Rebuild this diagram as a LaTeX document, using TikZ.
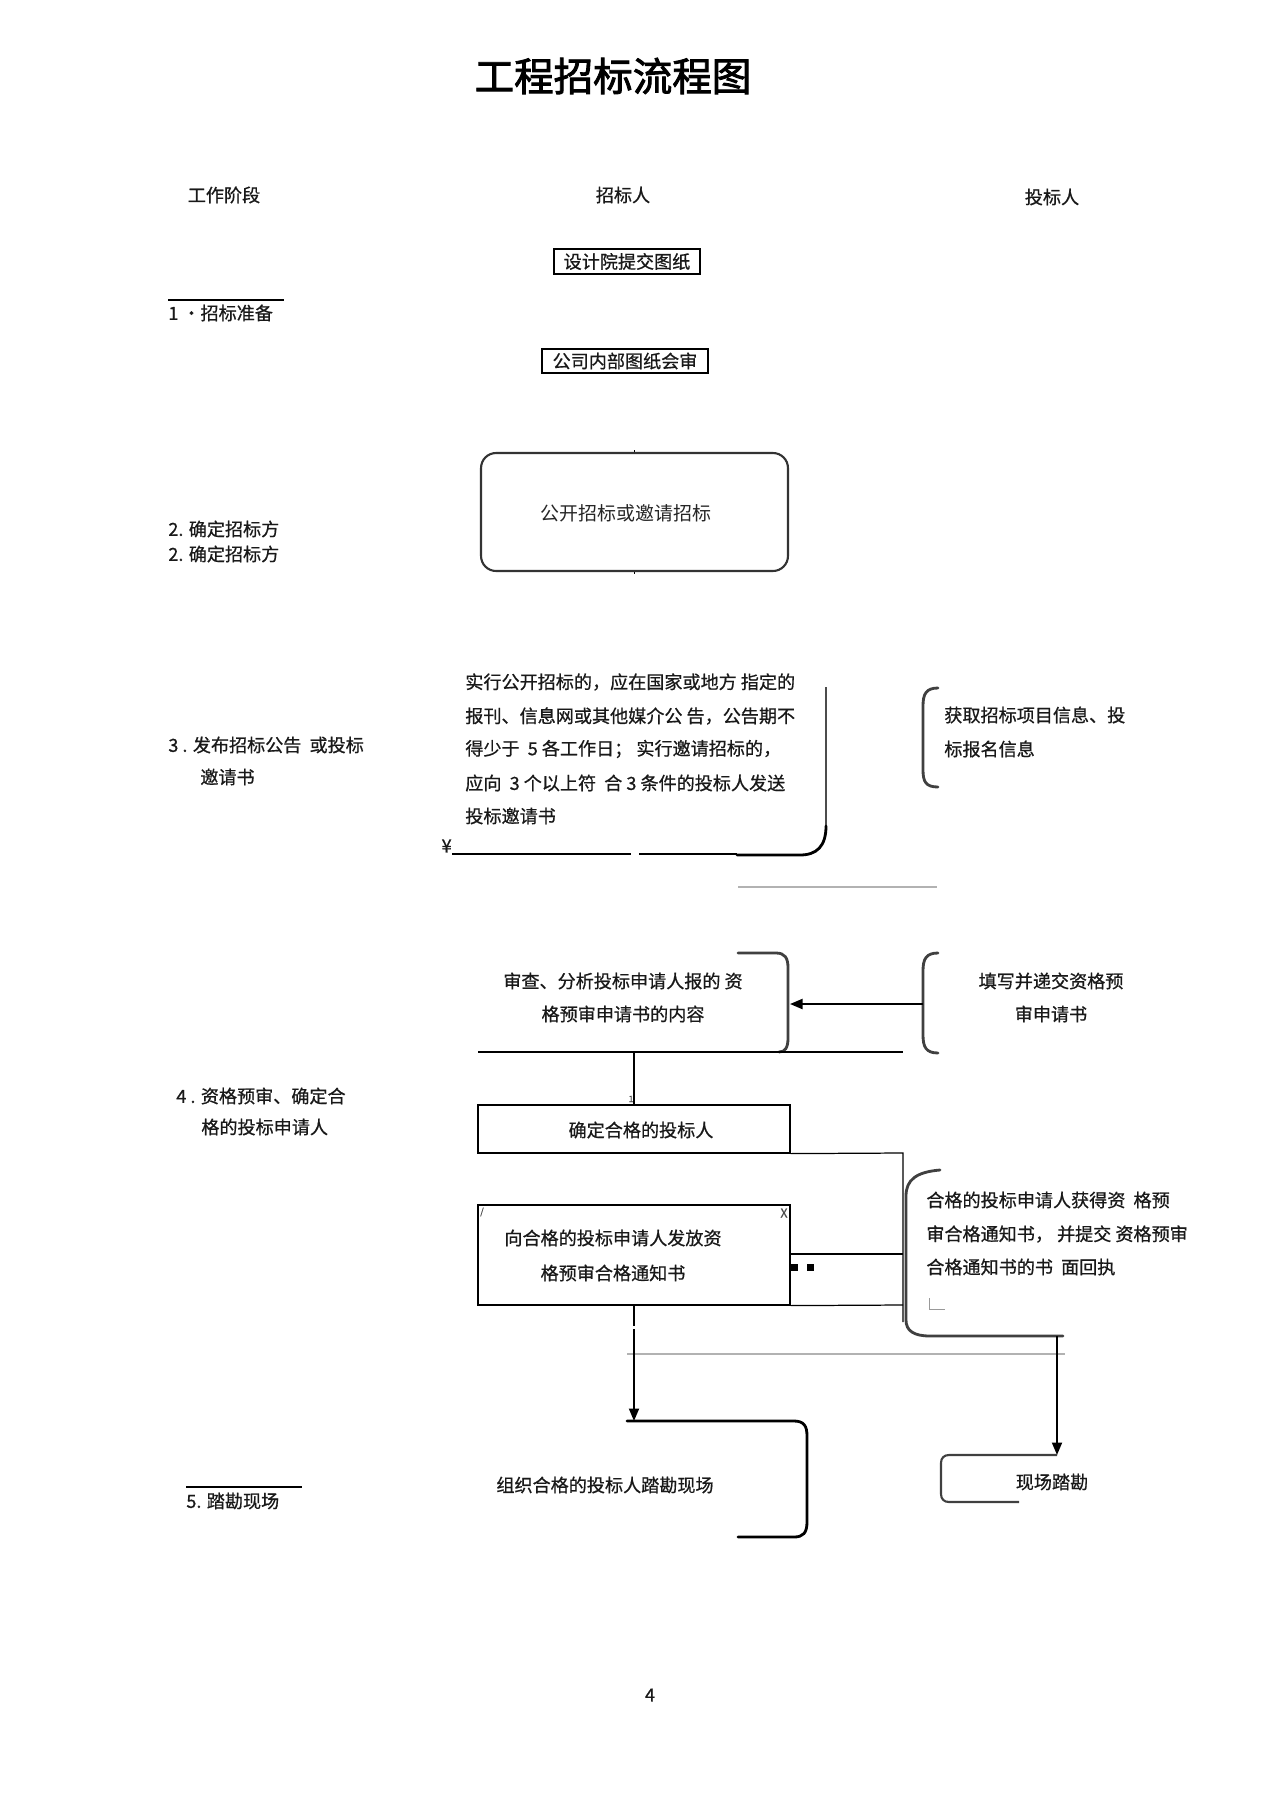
\documentclass[tikz,border=0pt]{standalone}
\usepackage{fontspec}
\newfontfamily\cjk[FakeBold=0.7]{Noto Sans CJK SC}
\newfontfamily\cjkp{Noto Sans CJK SC}
\newfontfamily\cjkt[FakeBold=2.2]{Noto Sans CJK SC}
\usetikzlibrary{arrows.meta}
\tikzset{
  body/.style={font=\cjk\fontsize{10.3}{12}\selectfont, inner sep=0pt, text=black!90},
  lbl/.style={font=\cjk\fontsize{10.3}{12}\selectfont, inner sep=0pt, text=black!90},
  tiny/.style={font=\cjk\fontsize{5}{6}\selectfont, inner sep=0pt, text=black!70},
  thinline/.style={line width=0.7pt, black},
  brk/.style={line width=1.6pt, black!75, line cap=round},
  grayline/.style={line width=1.6pt, black!30},
  arr/.style={line width=1.1pt, black, -{Triangle[length=0.25cm,width=0.2cm]}},
  boxed/.style={draw, line width=0.7pt, inner sep=0pt},
}
\begin{document}
\begin{tikzpicture}[x=0.02cm,y=-0.02cm]
\useasboundingbox (0,0) rectangle (1274,1804);
\fill[white] (0,0) rectangle (1274,1804);

% title and headers
\node[font=\cjkt\fontsize{22.5}{26}\selectfont, inner sep=0pt] (title) at (613,76) {工程招标流程图};
\node[lbl] (h1) at (224,195) {工作阶段};
\node[lbl] (h2) at (623,195) {招标人};
\node[lbl] (h3) at (1052,197) {投标人};

% stage 1
\node[boxed, minimum width=2.92cm, minimum height=0.5cm, body] (b1) at (627,261.5) {设计院提交图纸};
\draw[thinline] (168,300) -- (284,300);
\node[lbl, anchor=west] (s1) at (168,313) {1 ·招标准备};
\node[boxed, minimum width=3.32cm, minimum height=0.48cm, body] (b2) at (625,361) {公司内部图纸会审};

% stage 2
\node[draw, line width=1.2pt, black!80, rounded corners=0.3cm, minimum width=6.14cm, minimum height=2.36cm] (b3) at (634.5,512) {};
\node[font=\cjkp\fontsize{10.8}{12}\selectfont, inner sep=0pt, text=black!85] (b3t) at (626,513) {公开招标或邀请招标};
\draw[line width=0.6pt] (b3.north) -- ++(0,-2);
\draw[line width=0.6pt] (b3.south) -- ++(0,2);
\node[lbl, anchor=west] (s2a) at (168,529) {2. 确定招标方};
\node[lbl, anchor=west] (s2b) at (168,554) {2. 确定招标方};

% stage 3
\node[lbl, anchor=west] (s3a) at (168,745) {3 . 发布招标公告\ \ 或投标};
\node[lbl, anchor=west] (s3b) at (200,777) {邀请书};
\node[body, anchor=west] (t3a) at (465,682) {实行公开招标的，应在国家或地方 指定的};
\node[body, anchor=west] (t3b) at (465,716) {报刊、信息网或其他媒介公 告，公告期不};
\node[body, anchor=west] (t3c) at (465,749) {得少于\ \ 5 各工作日；\ 实行邀请招标的，};
\node[body, anchor=west] (t3d) at (465,783) {应向\ \ 3 个以上符\ \ 合 3 条件的投标人发送};
\node[body, anchor=west] (t3e) at (465,816) {投标邀请书};
\draw[line width=1.2pt, black!70] (826,687) -- (826,826);
\draw[brk, black] (826,826) .. controls (826,846) and (817,855) .. (800,855) -- (737,855);
\node[body, anchor=east] (yen) at (452,846) {¥};
\draw[line width=0.6pt] (452,854) -- (631,854);
\draw[line width=0.6pt] (639,854) -- (737,854);
\draw[grayline] (738,887) -- (937,887);
\draw[brk] (938,688) .. controls (926,688) and (923,694) .. (923,706) -- (923,770) .. controls (923,782) and (926,787) .. (938,787);
\node[body, anchor=west] (t3f) at (944,715) {获取招标项目信息、投};
\node[body, anchor=west] (t3g) at (944,749) {标报名信息};

% stage 4
\node[body] (t4a) at (623,981) {审查、分析投标申请人报的 资};
\node[body] (t4b) at (623,1014) {格预审申请书的内容};
\draw[brk] (738,953) -- (776,953) .. controls (785,953) and (788,958) .. (788,968) -- (788,1038) .. controls (788,1048) and (785,1052) .. (779,1052);
\draw[thinline] (478,1052) -- (903,1052);
\coordinate (hl) at (634,1052);
\node[body] (t4c) at (1051,981) {填写并递交资格预};
\node[body] (t4d) at (1051,1014) {审申请书};
\draw[brk] (938,953) .. controls (926,953) and (923,959) .. (923,971) -- (923,1035) .. controls (923,1047) and (926,1053) .. (938,1053);
\coordinate (fx) at (923,1004);
\coordinate (sx) at (790,1004);
\draw[arr] (fx) -- (sx);
\node[lbl, anchor=west] (s4a) at (176,1096) {4 . 资格预审、确定合};
\node[lbl, anchor=west] (s4b) at (201,1127) {格的投标申请人};

\node[draw, line width=0.7pt, minimum width=6.24cm, minimum height=0.96cm, inner sep=0pt] (qd) at (634,1129) {};
\node[body] (qdt) at (641,1130) {确定合格的投标人};
\draw[thinline] (hl) -- (qd.north);
\node[tiny] (one) at (631,1099) {1};
\draw[thinline] (qd.south east) -- (903,1153) -- (903,1322);

\node[draw, line width=0.7pt, minimum width=6.24cm, minimum height=2cm, inner sep=0pt] (xh) at (634,1255) {};
\node[body] (xha) at (613,1238) {向合格的投标申请人发放资};
\node[body] (xhb) at (613,1273) {格预审合格通知书};
\node[tiny] (sl) at (482,1212) {/};
\node[tiny, font=\cjk\fontsize{7}{8}\selectfont] (xx) at (784,1213) {X};
\draw[thinline] (790,1254) -- (903,1254);
\draw[thinline] (xh.south east) -- (903,1305);
\fill (791,1264) rectangle (798,1271);
\fill (807,1264) rectangle (814,1271);

\draw[brk] (940,1170) .. controls (916,1172) and (906,1180) .. (906,1196) -- (906,1320) .. controls (906,1331) and (914,1336) .. (930,1336) -- (1063,1336);
\node[body, anchor=west] (t4e) at (926,1200) {合格的投标申请人获得资 \ 格预};
\node[body, anchor=west] (t4f) at (926,1234) {审合格通知书， 并提交 资格预审};
\node[body, anchor=west] (t4g) at (926,1267) {合格通知书的书 \ 面回执};
\draw[line width=0.4pt, black!40] (929,1298) -- (929,1309) -- (945,1309);

% stage 5
\coordinate (gapa) at (634,1326);
\coordinate (gapb) at (634,1329);
\draw[thinline, line width=1pt] (xh.south) -- (gapa);
\draw[grayline] (627,1354) -- (1065,1354);
\draw[brk, black] (627,1421) -- (794,1421) .. controls (804,1421) and (807,1426) .. (807,1436) -- (807,1522) .. controls (807,1533) and (803,1537) .. (794,1537) -- (738,1537);
\coordinate (zz) at (634,1421);
\draw[arr] (gapb) -- (zz);
\node[body] (t5a) at (605,1485) {组织合格的投标人踏勘现场};
\coordinate (rb) at (1057,1336);
\coordinate (xc) at (1057,1455);
\draw[arr] (rb) -- (xc);
\draw[line width=1.2pt, black!75] (1057,1455) -- (949,1455) .. controls (944,1455) and (941,1458) .. (941,1463) -- (941,1494) .. controls (941,1499) and (944,1502) .. (949,1502) -- (1019,1502);
\node[body] (t5b) at (1052,1482) {现场踏勘};
\draw[thinline] (186,1487) -- (302,1487);
\node[lbl, anchor=west] (s5) at (186,1501) {5. 踏勘现场};

\node[lbl] (pg) at (650,1695) {4};
\end{tikzpicture}
\end{document}
